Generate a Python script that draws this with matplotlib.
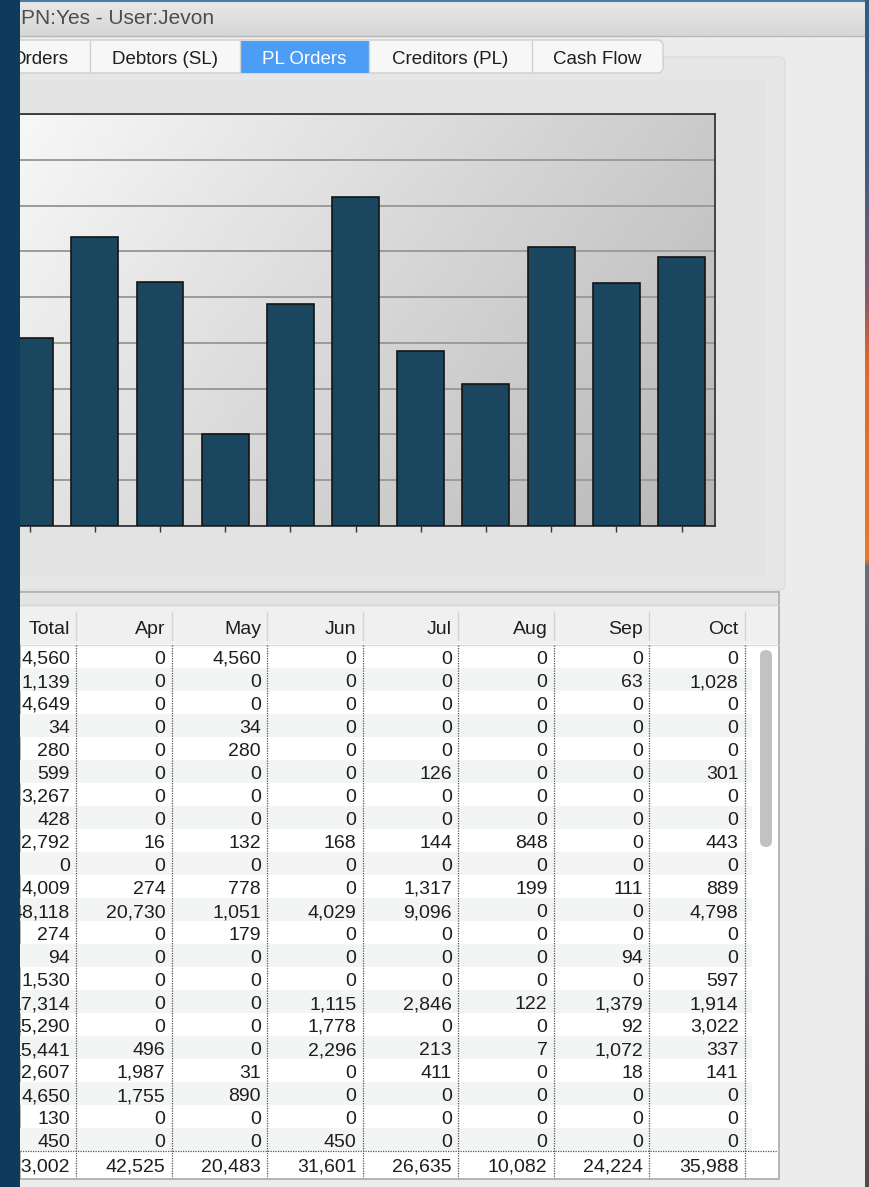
import numpy as np
import matplotlib
matplotlib.use("Agg")
import matplotlib.pyplot as plt
from matplotlib.patches import Rectangle, FancyBboxPatch
from matplotlib.colors import to_rgb

plt.rcParams['font.family'] = ['Liberation Sans', 'DejaVu Sans']

W, H = 869, 1187

# bar chart: monthly PL orders (Apr..Mar), Apr bar is scrolled off to the left
months = ["Apr", "May", "Jun", "Jul", "Aug", "Sep", "Oct", "Nov", "Dec", "Jan", "Feb", "Mar"]
month_totals = [42525, 20483, 31601, 26635, 10082, 24224, 35988, 19100, 15500, 30450, 26550, 29350]

# table columns
col_names = ["Total", "Apr", "May", "Jun", "Jul", "Aug", "Sep", "Oct"]
total = [4560, 1139, 4649, 34, 280, 599, 3267, 428, 2792, 0, 4009, 48118, 274, 94, 1530, 17314, 15290, 15441, 2607, 4650, 130, 450]
apr = [0, 0, 0, 0, 0, 0, 0, 0, 16, 0, 274, 20730, 0, 0, 0, 0, 0, 496, 1987, 1755, 0, 0]
may = [4560, 0, 0, 34, 280, 0, 0, 0, 132, 0, 778, 1051, 179, 0, 0, 0, 0, 0, 31, 890, 0, 0]
jun = [0, 0, 0, 0, 0, 0, 0, 0, 168, 0, 0, 4029, 0, 0, 0, 1115, 1778, 2296, 0, 0, 0, 450]
jul = [0, 0, 0, 0, 0, 126, 0, 0, 144, 0, 1317, 9096, 0, 0, 0, 2846, 0, 213, 411, 0, 0, 0]
aug = [0, 0, 0, 0, 0, 0, 0, 0, 848, 0, 199, 0, 0, 0, 0, 122, 0, 7, 0, 0, 0, 0]
sep = [0, 63, 0, 0, 0, 0, 0, 0, 0, 0, 111, 0, 0, 94, 0, 1379, 92, 1072, 18, 0, 0, 0]
oct_ = [0, 1028, 0, 0, 0, 301, 0, 0, 443, 0, 889, 4798, 0, 0, 597, 1914, 3022, 337, 141, 0, 0, 0]
col_totals = [313002, 42525, 20483, 31601, 26635, 10082, 24224, 35988]

title = "PN:Yes - User:Jevon"
tabs = ["Orders", "Debtors (SL)", "PL Orders", "Creditors (PL)", "Cash Flow"]


def fr(x0, y0, x1, y1):
    return [x0 / W, 1 - y1 / H, (x1 - x0) / W, (y1 - y0) / H]


fig = plt.figure(figsize=(W / 100, H / 100), dpi=100)
fig.patch.set_facecolor('#ececec')

bg = fig.add_axes([0, 0, 1, 1])
bg.axis('off')


def rect(x0, y0, x1, y1, **kw):
    bg.add_patch(Rectangle((x0, y0), x1 - x0, y1 - y0, **kw))


# window background
rect(0, 0, 865, H, facecolor='#ececec', lw=0)

# title bar
tb = np.linspace(232, 214, 40).reshape(-1, 1)
bg.imshow(np.repeat(tb, 2, axis=1), cmap='gray', vmin=0, vmax=255, extent=(0, 865, 36, 0), aspect='auto', zorder=1)
bg.plot([0, 865], [36, 36], color='#b9b9b9', lw=1, zorder=2)
bg.plot([0, 865], [0.8, 0.8], color='#4a7ea3', lw=1.5, zorder=2)
bg.text(21, 19, title, fontsize=15, color='#4d4d4d', va='center', ha='left', zorder=3)

# desktop strip on the right (vertical gradient)
stops_y = [0, 160, 300, 360, 558, 566, 800, 1187]
stops_c = ['#2b5f86', '#3f5d80', '#8a5a6a', '#e0682e', '#e8782f', '#6a6c78', '#696870', '#574750']
yy = np.arange(H)
rgb = np.array([to_rgb(c) for c in stops_c])
strip = np.stack([np.interp(yy, stops_y, rgb[:, k]) for k in range(3)], axis=1)
bg.imshow(strip[:, None, :], extent=(865, W, H, 0), aspect='auto', zorder=4)

# outer panel + chart region
bg.add_patch(FancyBboxPatch((-20, 57), 805, 533, boxstyle='round,pad=0,rounding_size=6',
                            facecolor='#e6e6e6', edgecolor='#dddddd', lw=1, zorder=1))
rect(-10, 80, 765, 577, facecolor='#e3e3e3', lw=0, zorder=1.2)

# tab bar
bg.add_patch(FancyBboxPatch((-20, 40), 683, 33, boxstyle='round,pad=0,rounding_size=6',
                            facecolor='#f7f7f7', edgecolor='#cfcfcf', lw=1, zorder=2))
rect(240, 40.5, 369, 72.5, facecolor='#4c9df5', lw=0, zorder=2.2)
for xs in [90, 240, 369, 532]:
    bg.plot([xs, xs], [41, 72], color='#d2d2d2', lw=1, zorder=2.3)
tab_x = [68, 165, 304.5, 450.5, 597.5]
for i, t in enumerate(tabs):
    bg.text(tab_x[i], 58, t, fontsize=13.5, ha='right' if i == 0 else 'center', va='center_baseline',
            color='white' if t == "PL Orders" else '#1e1e1e', zorder=3)

# table frame
rect(20, 592, 779, 1179, facecolor='white', edgecolor='#a9a9a9', lw=1.2, zorder=2)
rect(20, 593, 778, 605, facecolor='#e4e4e4', lw=0, zorder=2.1)
rect(20, 605, 778, 644, facecolor='#f0f0f0', lw=0, zorder=2.1)
bg.plot([20, 778], [605, 605], color='#d4d4d4', lw=1, zorder=2.2)
bg.plot([20, 778], [644.5, 644.5], color='#dadada', lw=1, zorder=2.2)

edges = [76 + 95.5 * k for k in range(len(col_names))]
row0, pitch = 645, 23
nrows = len(total)
for r in range(nrows):
    if r % 2 == 1:
        rect(20, row0 + r * pitch, 752, row0 + (r + 1) * pitch, facecolor='#f3f4f4', lw=0, zorder=2.2)

txt = dict(fontsize=14, ha='right', va='center_baseline', color='#1e1e1e', zorder=3)
columns = [total, apr, may, jun, jul, aug, sep, oct_]
for c, name in enumerate(col_names):
    xe = edges[c]
    bg.plot([xe, xe], [612, 640], color='#d3d3d3', lw=1, zorder=2.3)
    bg.plot([xe, xe], [645, 1178], color='#555555', lw=0.9, ls=(0, (1, 1)), zorder=2.5)
    bg.text(xe - 6, 628, name, **txt)
    for r, v in enumerate(columns[c]):
        bg.text(xe - 6, row0 + r * pitch + 12.5, f"{v:,}", **txt)
    bg.text(xe - 6, 1164.5, f"{col_totals[c]:,}", **txt)

bg.plot([20, 777], [1151, 1151], color='#555555', lw=0.9, ls=(0, (1, 1)), zorder=2.6)

# scrollbar thumb
bg.add_patch(FancyBboxPatch((760, 650), 12, 197, boxstyle='round,pad=0,rounding_size=6',
                            facecolor='#c2c2c2', lw=0, zorder=2.4))

bg.set_xlim(0, W)
bg.set_ylim(H, 0)

# bar chart
ax = fig.add_axes(fr(20, 114, 715, 526))
x = np.arange(len(months))
xlo, xhi = 0.853, 11.513
ymax = 45000
u = np.linspace(0, 1, 200)
v = np.linspace(0, 1, 200)
uu, vv = np.meshgrid(u, v)
grad = 247 - 45 * uu - 20 * vv
ax.imshow(grad, cmap='gray', vmin=0, vmax=255, extent=(xlo, xhi, 0, ymax), aspect='auto',
          origin='upper', zorder=0)
ax.bar(x, month_totals, width=0.72, color='#1a4660', edgecolor='#141414', linewidth=1.2, zorder=3)
ax.set_yticks(np.arange(0, ymax + 1, 5000))
ax.yaxis.grid(True, color='#9b9b9b', lw=1.4)
ax.set_axisbelow(True)
ax.tick_params(axis='y', length=0, labelleft=False)
ax.set_xticks(x)
ax.set_xticklabels([])
ax.tick_params(axis='x', direction='out', length=4, width=1, color='#333333')
ax.set_xlim(xlo, xhi)
ax.set_ylim(0, ymax)
ax.spines['left'].set_visible(False)
for s in ['top', 'right', 'bottom']:
    ax.spines[s].set_color('#2a2a2a')
    ax.spines[s].set_linewidth(1.2)

# left edge of screen (dark desktop strip)
ov = fig.add_axes([0, 0, 1, 1], zorder=10)
ov.set_xlim(0, W)
ov.set_ylim(H, 0)
ov.axis('off')
ov.patch.set_alpha(0)
ov.add_patch(Rectangle((0, 0), 20, H, facecolor='#0e3b5c', lw=0))

fig.savefig('out.png', dpi=100)
